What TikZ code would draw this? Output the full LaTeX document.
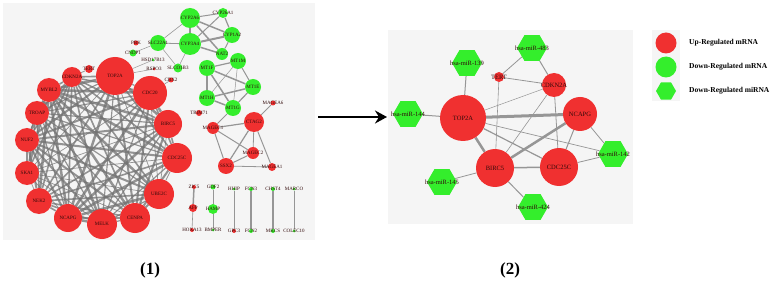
\documentclass[tikz,border=0pt]{standalone}
\usepackage{fontspec}
\setmainfont{Liberation Serif}
\usetikzlibrary{shapes.geometric,arrows.meta}
\definecolor{upred}{RGB}{240,48,48}
\definecolor{dngreen}{RGB}{52,238,44}
\definecolor{panelbg}{RGB}{245,245,245}
\definecolor{edgegray}{RGB}{150,150,150}
\definecolor{labtxt}{RGB}{50,10,10}
\pgfdeclarelayer{panel}
\pgfdeclarelayer{edges}
\pgfsetlayers{panel,edges,main}
\tikzset{
  upn/.style={circle,fill=upred,draw=none,minimum size=#1,inner sep=0pt},
  dnn/.style={circle,fill=dngreen,draw=none,minimum size=#1,inner sep=0pt},
  mir/.style={regular polygon,regular polygon sides=6,fill=dngreen,draw=none,minimum size=30pt,inner sep=0pt},
  lt/.style={font=\fontsize{5}{5}\selectfont,text=labtxt,inner sep=0pt},
  rt/.style={font=\fontsize{6.5}{6.5}\selectfont,text=labtxt,inner sep=0pt},
  ed/.style={draw=edgegray,line width=#1},
  ringedge/.style={draw=black!55,opacity=0.75},
  legtxt/.style={font=\bfseries\fontsize{7.5}{7.5}\selectfont,anchor=west,inner sep=0pt},
  captxt/.style={font=\bfseries\fontsize{17}{17}\selectfont,inner sep=0pt},
}
\begin{document}
\begin{tikzpicture}[x=1pt,y=-1pt]
\useasboundingbox (0,0) rectangle (770,283);
\begin{pgfonlayer}{panel}
  \fill[panelbg] (3,3) rectangle (315,240);
  \fill[panelbg] (388,30) rectangle (633,224);
  \fill[panelbg] (652,30) rectangle (680,101);
\end{pgfonlayer}

% ---------- left network: ring ----------
\node[upn=38pt,label={[lt]center:TOP2A}] (top2a) at (115,76) {};
\node[upn=34pt,label={[lt]center:CDC20}] (cdc20) at (150,93) {};
\node[upn=28pt,label={[lt]center:BIRC5}] (birc5) at (168,124) {};
\node[upn=30pt,label={[lt]center:CDC25C}] (cdc25c) at (177,158) {};
\node[upn=30pt,label={[lt]center:UBE2C}] (ube2c) at (159,194) {};
\node[upn=30pt,label={[lt]center:CENPA}] (cenpa) at (135,218) {};
\node[upn=30pt,label={[lt]center:MELK}] (melk) at (102,224) {};
\node[upn=28pt,label={[lt]center:NCAPG}] (ncapg) at (68,218) {};
\node[upn=26pt,label={[lt]center:NEK2}] (nek2) at (39,201) {};
\node[upn=24pt,label={[lt]center:SKA1}] (ska1) at (27,173) {};
\node[upn=24pt,label={[lt]center:NUF2}] (nuf2) at (27,140) {};
\node[upn=24pt,label={[lt]center:TROAP}] (troap) at (37,113) {};
\node[upn=24pt,label={[lt]center:MYBL2}] (mybl2) at (49,90) {};
\node[upn=20pt,label={[lt]center:CDKN2A}] (cdkn2a) at (72,77) {};
\node[upn=8pt,label={[lt]center:TERT}] (tert) at (89,69) {};

% small nodes near TOP2A
\node[upn=5pt,label={[lt]center:PBK}] (pbk) at (136,43) {};
\node[dnn=16pt,label={[lt]center:SLC22A1}] (slc22a1) at (158,43) {};
\node[dnn=7pt,label={[lt]center:CNDP1}] (cndp1) at (133,53) {};
\node[dnn=3pt,label={[lt]center:HSD17B13}] (hsd) at (153,60) {};
\node[upn=3pt,label={[lt]center:RSPO3}] (rspo3) at (154,69) {};
\node[dnn=9pt,label={[lt]center:SLCO1B3}] (slco1b3) at (178,68) {};
\node[upn=5pt,label={[lt]center:CBX2}] (cbx2) at (171,80) {};

% CYP cluster
\node[dnn=20pt,label={[lt]center:CYP2A6}] (cyp2a6) at (190,18) {};
\node[dnn=10pt,label={[lt]center:CYP26A1}] (cyp26a1) at (223,13) {};
\node[dnn=16pt,label={[lt]center:CYP1A2}] (cyp1a2) at (232,35) {};
\node[dnn=22pt,label={[lt]center:CYP3A4}] (cyp3a4) at (190,44) {};
\node[dnn=12pt,label={[lt]center:NAT2}] (nat2) at (222,54) {};

% MT cluster
\node[dnn=16pt,label={[lt]center:MT1M}] (mt1m) at (238,61) {};
\node[dnn=16pt,label={[lt]center:MT1F}] (mt1f) at (207,68) {};
\node[dnn=16pt,label={[lt]center:MT1E}] (mt1e) at (253,87) {};
\node[dnn=16pt,label={[lt]center:MT1H}] (mt1h) at (207,98) {};
\node[dnn=16pt,label={[lt]center:MT1G}] (mt1g) at (233,108) {};

% cancer-testis cluster
\node[upn=5pt,label={[lt]center:MAGEA6}] (magea6) at (273,103) {};
\node[upn=6pt,label={[lt]center:TRIM71}] (trim71) at (199,113) {};
\node[upn=20pt,label={[lt]center:CTAG2}] (ctag2) at (254,122) {};
\node[upn=12pt,label={[lt]center:MAGEC1}] (magec1) at (213,128) {};
\node[upn=12pt,label={[lt]center:MAGEC2}] (magec2) at (253,153) {};
\node[upn=16pt,label={[lt]center:SSX2}] (ssx2) at (226,166) {};
\node[upn=8pt,label={[lt]center:MAGEA1}] (magea1) at (272,167) {};

% bottom pairs
\node[upn=4pt,label={[lt]center:ZIC5}] (zic5) at (194,187) {};
\node[upn=8pt,label={[lt]center:AFP}] (afp) at (193,208) {};
\node[upn=4pt,label={[lt]center:HOXA13}] (hoxa13) at (192,230) {};
\node[dnn=5pt,label={[lt]center:GDF2}] (gdf2) at (213,187) {};
\node[dnn=10pt,label={[lt]center:HAMP}] (hamp) at (213,209) {};
\node[dnn=3pt,label={[lt]center:BMPER}] (bmper) at (213,230) {};
\node[dnn=3pt,label={[lt]center:HHIP}] (hhip) at (234,189) {};
\node[upn=4pt,label={[lt]center:GPC3}] (gpc3) at (234,231) {};
\node[dnn=4pt,label={[lt]center:FCN3}] (fcn3) at (251,189) {};
\node[dnn=4pt,label={[lt]center:FCN2}] (fcn2) at (251,231) {};
\node[dnn=4pt,label={[lt]center:CHST4}] (chst4) at (273,189) {};
\node[dnn=3pt,label={[lt]center:MARCO}] (marco) at (294,189) {};
\node[dnn=4pt,label={[lt]center:MKCS}] (mkcs) at (273,231) {};
\node[dnn=3pt,label={[lt]center:COLEC10}] (colec10) at (294,231) {};

% ---------- right network ----------
\node[mir,label={[rt]center:hsa-miR-139}] (m139) at (467,63) {};
\node[mir,label={[rt]center:hsa-miR-483}] (m483) at (532,48) {};
\node[mir,label={[rt]center:hsa-miR-144}] (m144) at (408,114) {};
\node[mir,label={[rt]center:hsa-miR-142}] (m142) at (613,154) {};
\node[mir,label={[rt]center:hsa-miR-145}] (m145) at (442,182) {};
\node[mir,label={[rt]center:hsa-miR-424}] (m424) at (533,207) {};
\node[upn=10pt,label={[rt]center:TERT}] (tertB) at (499,77) {};
\node[upn=24pt,label={[rt]center:CDKN2A}] (cdkn2aB) at (554,85) {};
\node[upn=46pt,label={[rt]center:TOP2A}] (top2aB) at (463,118) {};
\node[upn=34pt,label={[rt]center:NCAPG}] (ncapgB) at (580,114) {};
\node[upn=38pt,label={[rt]center:CDC25C}] (cdc25cB) at (559,167) {};
\node[upn=38pt,label={[rt]center:BIRC5}] (birc5B) at (495,168) {};

% ---------- legend ----------
\node[upn=21pt] (legup) at (666,43) {};
\node[dnn=21pt] (legdn) at (666,67) {};
\node[mir,minimum size=20pt] (legmir) at (666,91) {};
\node[legtxt] (legupt) at (689,43) {Up-Regulated mRNA};
\node[legtxt] (legdnt) at (689,67) {Down-Regulated mRNA};
\node[legtxt] (legmirt) at (689,91) {Down-Regulated miRNA};

% ---------- captions and arrow ----------
\node[captxt] (cap1) at (150,270) {(1)};
\node[captxt] (cap2) at (510,270) {(2)};
\coordinate (arrS) at (318,117);
\coordinate (arrE) at (387,117);
\draw[line width=2pt,-{Stealth[length=12pt,width=13pt,inset=4pt]}] (arrS) -- (arrE);

% ---------- edges ----------
\begin{pgfonlayer}{edges}
\foreach \a [count=\i] in {top2a,cdc20,birc5,cdc25c,ube2c,cenpa,melk,ncapg,nek2,ska1,nuf2,troap,mybl2,cdkn2a}{
  \foreach \b [count=\j] in {top2a,cdc20,birc5,cdc25c,ube2c,cenpa,melk,ncapg,nek2,ska1,nuf2,troap,mybl2,cdkn2a}{
    \ifnum\j>\i
      \pgfmathsetmacro\w{0.7+0.45*mod(\i*5+\j*3,5)}
      \draw[ringedge,line width=\w pt] (\a) -- (\b);
    \fi
  }
}
\draw[ed=0.8] (cdkn2a) -- (tert);
\draw[ed=0.5] (top2a) -- (rspo3);
\draw[ed=0.5] (top2a) -- (hsd);
\draw[ed=0.6] (cdc20) -- (cbx2);
\draw[ed=0.5] (cndp1) -- (slc22a1);
\draw[ed=0.6] (slc22a1) -- (cyp2a6);
\draw[ed=0.8] (slc22a1) -- (cyp3a4);
\draw[ed=0.5] (slc22a1) -- (slco1b3);
\draw[ed=0.6] (cyp3a4) -- (slco1b3);
% CYP clique
\draw[ed=2.5] (cyp2a6) -- (cyp3a4);
\draw[ed=1.0] (cyp2a6) -- (cyp26a1);
\draw[ed=1.5] (cyp2a6) -- (cyp1a2);
\draw[ed=1.5] (cyp2a6) -- (nat2);
\draw[ed=2.0] (cyp3a4) -- (cyp1a2);
\draw[ed=1.5] (cyp3a4) -- (nat2);
\draw[ed=1.0] (cyp3a4) -- (cyp26a1);
\draw[ed=1.2] (cyp26a1) -- (cyp1a2);
\draw[ed=1.0] (cyp1a2) -- (nat2);
% MT clique
\draw[ed=1.2] (mt1f) -- (mt1m);
\draw[ed=1.5] (mt1f) -- (mt1e);
\draw[ed=1.5] (mt1f) -- (mt1h);
\draw[ed=1.5] (mt1f) -- (mt1g);
\draw[ed=1.0] (mt1m) -- (mt1e);
\draw[ed=0.5] (mt1m) -- (mt1h);
\draw[ed=0.5] (mt1m) -- (mt1g);
\draw[ed=1.5] (mt1h) -- (mt1e);
\draw[ed=1.5] (mt1h) -- (mt1g);
\draw[ed=1.2] (mt1g) -- (mt1e);
\draw[ed=0.8] (mt1g) -- (magec1);
% CT cluster
\draw[ed=1.0] (ctag2) -- (magea6);
\draw[ed=1.2] (ctag2) -- (magec1);
\draw[ed=1.2] (ctag2) -- (ssx2);
\draw[ed=1.0] (ctag2) -- (magea1);
\draw[ed=0.8] (ctag2) -- (magec2);
\draw[ed=1.0] (magec1) -- (ssx2);
\draw[ed=1.0] (magec1) -- (magec2);
\draw[ed=1.0] (ssx2) -- (magec2);
\draw[ed=0.8] (ssx2) -- (magea1);
% bottom pairs
\draw[ed=1.5] (zic5) -- (afp);
\draw[ed=0.6] (afp) -- (hoxa13);
\draw[ed=0.8] (gdf2) -- (hamp);
\draw[ed=0.6] (hamp) -- (bmper);
\draw[ed=0.6] (hhip) -- (gpc3);
\draw[ed=2.5] (fcn3) -- (fcn2);
\draw[ed=2.5] (chst4) -- (mkcs);
\draw[ed=0.6] (marco) -- (colec10);
% right network
\draw[ed=1.0] (m139) -- (top2aB);
\draw[ed=0.8] (m483) -- (tertB);
\draw[ed=1.0] (m483) -- (cdkn2aB);
\draw[ed=0.8] (tertB) -- (cdkn2aB);
\draw[ed=0.6] (tertB) -- (birc5B);
\draw[ed=0.5] (cdkn2aB) -- (top2aB);
\draw[ed=0.6] (cdkn2aB) -- (birc5B);
\draw[ed=0.8] (cdkn2aB) -- (cdc25cB);
\draw[ed=1.0] (m144) -- (top2aB);
\draw[ed=3.0] (top2aB) -- (ncapgB);
\draw[ed=2.5] (top2aB) -- (birc5B);
\draw[ed=1.2] (top2aB) -- (cdc25cB);
\draw[ed=0.7] (top2aB) -- (m142);
\draw[ed=2.5] (birc5B) -- (ncapgB);
\draw[ed=1.5] (birc5B) -- (cdc25cB);
\draw[ed=1.0] (ncapgB) -- (cdc25cB);
\draw[ed=0.8] (ncapgB) -- (m142);
\draw[ed=0.8] (cdc25cB) -- (m142);
\draw[ed=0.8] (birc5B) -- (m145);
\draw[ed=1.0] (birc5B) -- (m424);
\end{pgfonlayer}
\end{tikzpicture}
\end{document}
